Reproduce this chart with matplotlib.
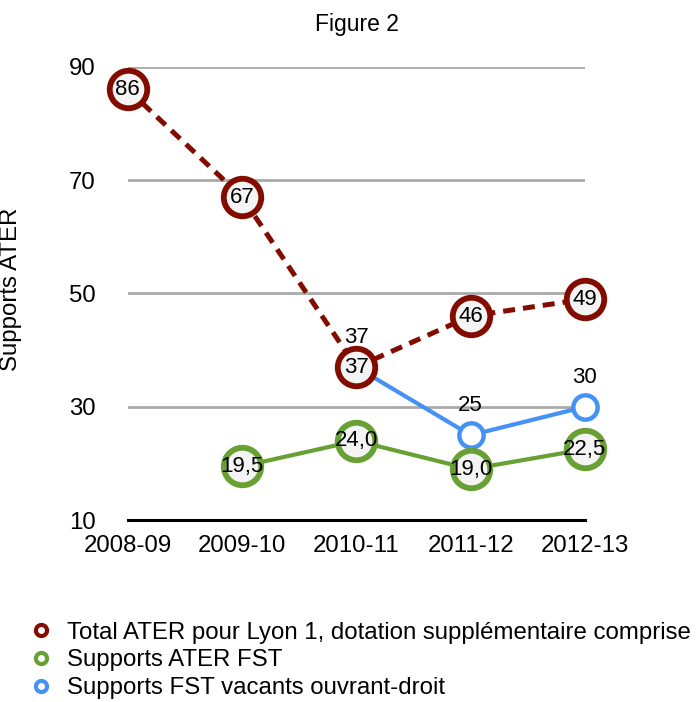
import matplotlib.pyplot as plt
import matplotlib.ticker as mticker

plt.rcParams["font.family"] = ["Liberation Sans", "DejaVu Sans"]

# donnees
annees = ["2008-09", "2009-10", "2010-11", "2011-12", "2012-13"]
total_ater = [86, 67, 37, 46, 49]
ater_fst = [None, 19.5, 24.0, 19.0, 22.5]
vacants_fst = [None, None, 37, 25, 30]

noms = ["Total ATER pour Lyon 1, dotation supplémentaire comprise",
        "Supports ATER FST",
        "Supports FST vacants ouvrant-droit"]

rouge = "#820c00"
vert = "#68a033"
bleu = "#4592f7"
fs = 17.3      # axes, legende
fs_val = 16    # etiquettes de valeurs

fig = plt.figure(figsize=(6.98, 7.02), dpi=100)
ax = fig.add_axes([0.183, 0.259, 0.655, 0.646])

x = list(range(len(annees)))

def garder(vals):
    xs = [i for i, v in zip(x, vals) if v is not None]
    ys = [v for v in vals if v is not None]
    return xs, ys

# serie bleue (dessinee sous la rouge)
xb, yb = garder(vacants_fst)
ax.plot(xb, yb, color=bleu, lw=3.0, marker="o", ms=17.5, mew=3.2,
        mfc="white", mec=bleu, zorder=3, clip_on=False)
for xi, yi in zip(xb, yb):
    ax.annotate(f"{yi:g}", (xi, yi), xytext=(0, 21), textcoords="offset points",
                ha="center", va="center", fontsize=fs_val, zorder=6)

# serie verte
xv, yv = garder(ater_fst)
ax.plot(xv, yv, color=vert, lw=3.0, marker="o", ms=27, mew=4.2,
        mfc="#f4f4f4", mec=vert, zorder=4, clip_on=False)
for xi, yi in zip(xv, yv):
    ax.text(xi, yi, f"{yi:.1f}".replace(".", ","), ha="center", va="center",
            fontsize=fs_val, zorder=7)

# serie rouge
ax.plot(x, total_ater, color=rouge, lw=3.6, ls=(0, (2.4, 1.6)), marker="o",
        ms=27, mew=4.2, mfc="#f4f4f4", mec=rouge, zorder=5, clip_on=False)
for xi, yi in zip(x, total_ater):
    ax.text(xi, yi, f"{yi}", ha="center", va="center", fontsize=fs_val, zorder=8)

ax.set_xlim(0, 4)
ax.set_ylim(10, 90)
ax.set_xticks(x)
ax.set_xticklabels(annees, fontsize=fs)
ax.yaxis.set_major_locator(mticker.FixedLocator([10, 30, 50, 70, 90]))
ax.tick_params(axis="y", length=0, pad=23, labelsize=fs)
ax.tick_params(axis="x", length=0, pad=11, labelsize=fs)
ax.grid(axis="y", color="#aaaaaa", lw=2.0)
ax.set_axisbelow(True)
for s in ["top", "right", "left"]:
    ax.spines[s].set_visible(False)
ax.spines["bottom"].set_color("black")
ax.spines["bottom"].set_linewidth(2.2)
ax.spines["bottom"].set_zorder(2)

ax.set_ylabel("Supports ATER", fontsize=fs)
ax.yaxis.set_label_coords(-0.232, 0.51)
fig.text(357 / 698, 1 - 25 / 702, "Figure 2", ha="center", va="center", fontsize=16.5)

handles = []
for c in [rouge, vert, bleu]:
    h, = ax.plot([], [], ls="none", marker="o", ms=8, mew=3, mfc="white", mec=c)
    handles.append(h)
fig.legend(handles, noms, loc="upper left", bbox_to_anchor=(19 / 698, 1 - 612 / 702),
           frameon=False, fontsize=fs, handlelength=1.0, handletextpad=0.6,
           labelspacing=0.24, borderaxespad=0)

plt.savefig("out.png", dpi=100)
